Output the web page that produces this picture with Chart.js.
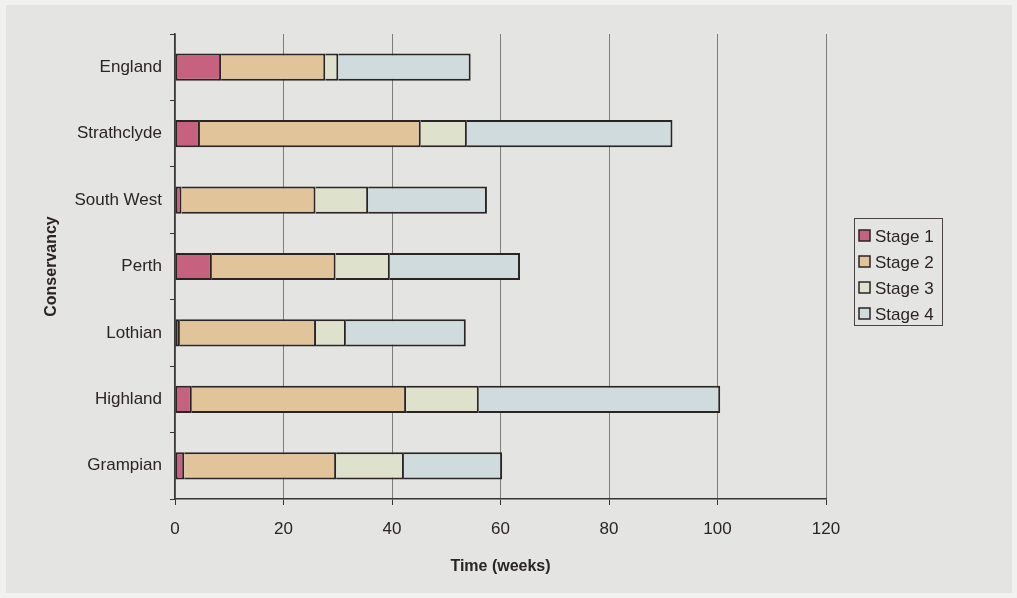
<!DOCTYPE html>
<html>
<head>
<meta charset="utf-8">
<title>Conservancy processing time</title>
<script src="https://cdn.jsdelivr.net/npm/chart.js@4.4.1/dist/chart.umd.min.js"></script>
<style>
  html, body { margin: 0; padding: 0; background: #f1f1f0; }
  #wrap { width: 1017px; height: 598px; }
</style>
</head>
<body>
<div id="wrap"><canvas id="chart" width="1017" height="598"></canvas></div>
<script>
// Categories (top to bottom) and the time spent in each stage, in weeks
const conservancies = ['England', 'Strathclyde', 'South West', 'Perth', 'Lothian', 'Highland', 'Grampian'];
const stage1 = [8.5, 4.6, 1.2, 6.8, 0.9, 3.1, 1.7];
const stage2 = [19.2, 40.7, 24.7, 22.8, 25.1, 39.5, 28.0];
const stage3 = [2.4, 8.5, 9.7, 10.0, 5.5, 13.4, 12.5];
const stage4 = [24.4, 37.9, 21.9, 24.0, 22.1, 44.5, 18.1];
const stageNames = ['Stage 1', 'Stage 2', 'Stage 3', 'Stage 4'];
const xTickValues = [0, 20, 40, 60, 80, 100, 120];

const FONT = '"Liberation Sans", Arial, Helvetica, sans-serif';
const INK = '#2a2424';
const stageColors = ['#c6627f', '#e2c49b', '#dee2cd', '#cfdbdc'];

// Page panel behind the plot
const panelPlugin = {
  id: 'panel',
  beforeDraw(chart) {
    const ctx = chart.ctx;
    ctx.save();
    ctx.fillStyle = '#f1f1f0';
    ctx.fillRect(0, 0, chart.width, chart.height);
    ctx.fillStyle = '#e4e5e3';
    ctx.fillRect(6, 5, 1006, 588);
    ctx.restore();
  }
};

// Boxed legend to the right of the plot
const boxLegendPlugin = {
  id: 'boxLegend',
  afterDraw(chart) {
    const ctx = chart.ctx;
    const x0 = 854, y0 = 218, w = 88, h = 107;
    ctx.save();
    ctx.strokeStyle = '#4a4444';
    ctx.lineWidth = 1;
    ctx.strokeRect(x0 + 0.5, y0 + 0.5, w, h);
    ctx.font = '17px ' + FONT;
    ctx.textBaseline = 'middle';
    ctx.textAlign = 'left';
    chart.data.datasets.forEach((ds, i) => {
      const cy = 236 + i * 26;
      ctx.fillStyle = ds.backgroundColor;
      ctx.fillRect(859, cy - 6, 11, 11);
      ctx.strokeStyle = INK;
      ctx.lineWidth = 1.5;
      ctx.strokeRect(859, cy - 6, 11, 11);
      ctx.fillStyle = INK;
      ctx.fillText(ds.label, 875, cy + 1);
    });
    ctx.restore();
  }
};

const series = [stage1, stage2, stage3, stage4];
const datasets = series.map((vals, i) => ({
  label: stageNames[i],
  data: vals,
  backgroundColor: stageColors[i],
  borderColor: INK,
  borderWidth: { top: 2, bottom: 2, right: 2, left: i === 0 ? 2 : 0 },
  borderSkipped: false,
  barPercentage: 0.41,
  categoryPercentage: 1.0
}));

new Chart(document.getElementById('chart'), {
  type: 'bar',
  data: { labels: conservancies, datasets },
  options: {
    indexAxis: 'y',
    responsive: false,
    animation: false,
    devicePixelRatio: 1,
    layout: { padding: { top: 34, right: 191, bottom: 0, left: 0 } },
    plugins: {
      legend: { display: false },
      tooltip: { enabled: false }
    },
    scales: {
      x: {
        type: 'linear',
        stacked: true,
        min: 0,
        max: 120,
        afterBuildTicks(scale) { scale.ticks = xTickValues.map(v => ({ value: v })); },
        afterFit(scale) { scale.height = 99; },
        grid: {
          color: '#7d7d7b',
          lineWidth: 1,
          drawTicks: true,
          tickLength: 6,
          tickColor: '#3a3535'
        },
        border: { display: true, color: '#3a3535', width: 1.5 },
        ticks: {
          color: INK,
          font: { family: FONT, size: 17 },
          padding: 14,
          maxRotation: 0
        },
        title: {
          display: true,
          text: 'Time (weeks)',
          color: INK,
          font: { family: FONT, size: 16, weight: 'bold' },
          padding: { top: 4, bottom: 22 }
        }
      },
      y: {
        stacked: true,
        afterFit(scale) { scale.width = 175; },
        grid: {
          drawOnChartArea: false,
          drawTicks: true,
          tickLength: 5,
          tickColor: '#3a3535',
          offset: true
        },
        border: { display: true, color: '#3a3535', width: 1.5 },
        ticks: {
          color: INK,
          font: { family: FONT, size: 17 },
          padding: 8
        },
        title: {
          display: true,
          text: 'Conservancy',
          color: INK,
          font: { family: FONT, size: 16, weight: 'bold' },
          padding: { top: 42, bottom: 4 }
        }
      }
    }
  },
  plugins: [panelPlugin, boxLegendPlugin]
});
</script>
</body>
</html>
